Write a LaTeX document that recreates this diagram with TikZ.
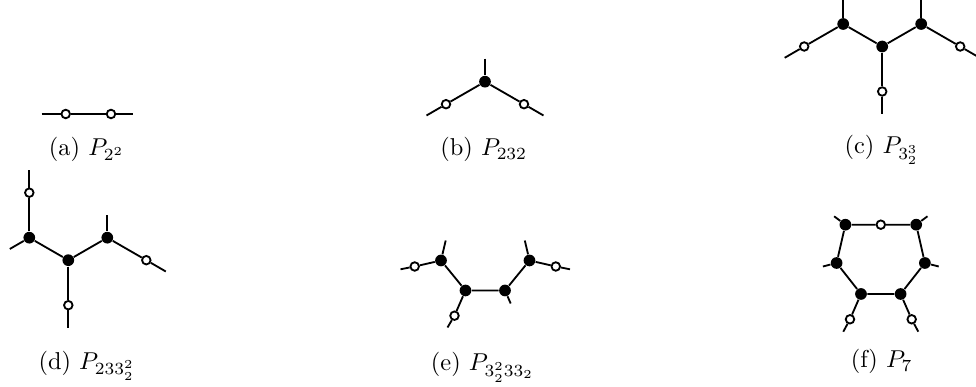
\documentclass[tikz,border=0pt]{standalone}
\tikzset{
    bvert/.style={circle, fill=black, inner sep=0pt, minimum size=4.8pt},
    wvert/.style={circle, draw=black, fill=white, line width=0.75pt, inner sep=0pt, minimum size=3.5pt},
    graphedge/.style={line width=0.75pt},
    sublabel/.style={anchor=base, inner sep=0pt},
}
\begin{document}
\begin{tikzpicture}[x=0.0144cm, y=-0.0144cm]
    \useasboundingbox (0,0) rectangle (976,387);
    % (a)
    \node[wvert] (a1) at (65.7,114) {};
    \node[wvert] (a2) at (111,114) {};
    \coordinate (a0) at (41.7,114);
    \coordinate (a3) at (133.3,114);
    \draw[graphedge] (a0) -- (a1) -- (a2) -- (a3);
    \node[sublabel] (capa) at (86.7,155.8) {(a) $P_{2^2}$};

    % (b)
    \node[bvert] (b0) at (485,81.7) {};
    \node[wvert] (b1) at (446,104.2) {};
    \node[wvert] (b2) at (524,104.2) {};
    \coordinate (b1e) at (426.5,115.5);
    \coordinate (b2e) at (543.5,115.5);
    \coordinate (b0e) at (485,58.7);
    \draw[graphedge] (b0e) -- (b0);
    \draw[graphedge] (b0) -- (b1) -- (b1e);
    \draw[graphedge] (b0) -- (b2) -- (b2e);
    \node[sublabel] (capb) at (483.8,155.8) {(b) $P_{232}$};

    % (c)
    \node[bvert] (c1) at (843.2,24) {};
    \node[bvert] (c2) at (882.2,46.5) {};
    \node[bvert] (c3) at (921.2,24) {};
    \node[wvert] (c4) at (804.2,46.5) {};
    \node[wvert] (c5) at (960.2,46.5) {};
    \node[wvert] (c6) at (882.2,91.5) {};
    \coordinate (c1e) at (843.2,0);
    \coordinate (c3e) at (921.2,0);
    \coordinate (c4e) at (784.7,57.8);
    \coordinate (c5e) at (979.7,57.8);
    \coordinate (c6e) at (882.2,114);
    \draw[graphedge] (c1) -- (c2) -- (c3);
    \draw[graphedge] (c1e) -- (c1);
    \draw[graphedge] (c3e) -- (c3);
    \draw[graphedge] (c1) -- (c4) -- (c4e);
    \draw[graphedge] (c3) -- (c5) -- (c5e);
    \draw[graphedge] (c2) -- (c6) -- (c6e);
    \node[sublabel] (capc) at (881.7,153.7) {(c) $P_{3_2^3}$};

    % (d)
    \node[bvert] (d1) at (29.3,237.7) {};
    \node[bvert] (d2) at (68.3,260.2) {};
    \node[bvert] (d3) at (107.3,237.7) {};
    \node[wvert] (d4) at (29.3,192.7) {};
    \node[wvert] (d5) at (68.3,305.2) {};
    \node[wvert] (d6) at (146.3,260.2) {};
    \coordinate (d4e) at (29.3,170.2);
    \coordinate (d1e) at (9.8,249);
    \coordinate (d5e) at (68.3,327.7);
    \coordinate (d3e) at (107.3,215.2);
    \coordinate (d6e) at (165.8,271.5);
    \draw[graphedge] (d1) -- (d2) -- (d3);
    \draw[graphedge] (d1) -- (d4) -- (d4e);
    \draw[graphedge] (d1e) -- (d1);
    \draw[graphedge] (d2) -- (d5) -- (d5e);
    \draw[graphedge] (d3e) -- (d3);
    \draw[graphedge] (d3) -- (d6) -- (d6e);
    \node[sublabel] (capd) at (86.7,369.5) {(d) $P_{233_2^2}$};

    % (e)
    \node[bvert] (e1) at (441,260.5) {};
    \node[bvert] (e2) at (465.5,290.5) {};
    \node[bvert] (e3) at (505,290.5) {};
    \node[bvert] (e4) at (529.5,260.5) {};
    \node[wvert] (e5) at (414.7,266.5) {};
    \node[wvert] (e6) at (454.5,315.7) {};
    \node[wvert] (e7) at (555.8,266.5) {};
    \coordinate (e1e) at (445.7,240.5);
    \coordinate (e5e) at (400.5,269.3);
    \coordinate (e6e) at (447.5,327.5);
    \coordinate (e3e) at (510.7,303.5);
    \coordinate (e4e) at (524.8,240.5);
    \coordinate (e7e) at (570,269.3);
    \draw[graphedge] (e1) -- (e2) -- (e3) -- (e4);
    \draw[graphedge] (e1e) -- (e1);
    \draw[graphedge] (e1) -- (e5) -- (e5e);
    \draw[graphedge] (e2) -- (e6) -- (e6e);
    \draw[graphedge] (e3) -- (e3e);
    \draw[graphedge] (e4e) -- (e4);
    \draw[graphedge] (e4) -- (e7) -- (e7e);
    \node[sublabel] (cape) at (482.5,371) {(e) $P_{3_2^233_2}$};

    % (f)
    \node[bvert] (f1) at (845.4,224.7) {};
    \node[wvert] (f2) at (880.8,224.7) {};
    \node[bvert] (f3) at (916.2,224.7) {};
    \node[bvert] (f4) at (924.9,263) {};
    \node[bvert] (f5) at (900.6,294) {};
    \node[bvert] (f6) at (861,294) {};
    \node[bvert] (f7) at (836.6,263) {};
    \node[wvert] (f8) at (911.7,319.3) {};
    \node[wvert] (f9) at (850,319.3) {};
    \coordinate (f1e) at (834.1,216.3);
    \coordinate (f3e) at (927.5,216.3);
    \coordinate (f4e) at (938.7,266.5);
    \coordinate (f7e) at (822.9,266.5);
    \coordinate (f8e) at (918.3,331.7);
    \coordinate (f9e) at (843.3,331.7);
    \draw[graphedge] (f1) -- (f2) -- (f3) -- (f4) -- (f5) -- (f6) -- (f7) -- (f1);
    \draw[graphedge] (f1e) -- (f1);
    \draw[graphedge] (f3e) -- (f3);
    \draw[graphedge] (f4) -- (f4e);
    \draw[graphedge] (f7e) -- (f7);
    \draw[graphedge] (f5) -- (f8) -- (f8e);
    \draw[graphedge] (f6) -- (f9) -- (f9e);
    \node[sublabel] (capf) at (881.7,368) {(f) $P_7$};
\end{tikzpicture}
\end{document}
